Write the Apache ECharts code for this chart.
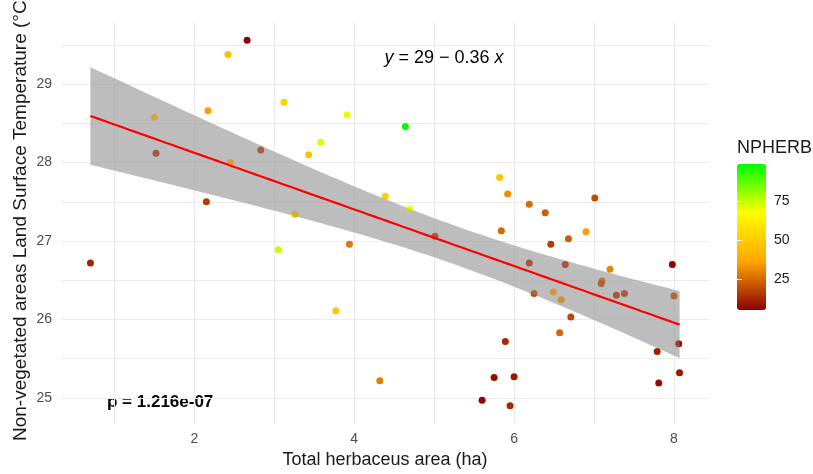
<!DOCTYPE html>
<html>
<head>
<meta charset="utf-8">
<script src="https://cdn.jsdelivr.net/npm/echarts@6/dist/echarts.min.js"></script>
<style>
  html, body { margin: 0; padding: 0; background: #ffffff; }
  #chart { width: 813px; height: 474px; }
</style>
</head>
<body>
<div id="chart"></div>
<script>
// Total herbaceous area per site (ha)
const herbArea = [
  2.66, 2.42, 2.17, 1.50, 1.52, 2.45, 2.83, 3.12, 3.91, 3.58,
  3.43, 2.15, 3.26, 4.64, 4.39, 4.69, 5.82, 5.92, 6.19, 6.39,
  7.01, 5.84, 6.90, 6.68, 6.46, 6.19, 6.64, 7.20, 7.10, 7.09,
  7.28, 7.38, 6.25, 6.49, 6.59, 7.98, 8.00, 6.71, 6.57, 5.89,
  8.06, 7.79, 4.32, 5.75, 6.00, 8.07, 7.81, 5.60, 5.95, 0.70,
  3.05, 3.94, 3.77, 5.01
];
// Land surface temperature of the non-vegetated areas (°C)
const lstTemp = [
  29.56, 29.38, 28.66, 28.58, 28.12, 28.00, 28.16, 28.77, 28.61, 28.26,
  28.10, 27.50, 27.34, 28.46, 27.57, 27.41, 27.81, 27.60, 27.47, 27.36,
  27.55, 27.13, 27.12, 27.03, 26.96, 26.72, 26.70, 26.64, 26.49, 26.46,
  26.31, 26.33, 26.33, 26.35, 26.25, 26.70, 26.30, 26.03, 25.83, 25.72,
  25.69, 25.59, 25.22, 25.26, 25.27, 25.32, 25.19, 24.97, 24.90, 26.72,
  26.89, 26.96, 26.11, 27.06
];
// NPHERB value per site (colour scale)
const npherb = [
  5.6, 45, 35, 40, 14, 36, 16, 51, 70, 72,
  48, 17, 42, 98.5, 51, 70, 47, 32, 26, 23,
  20, 25, 35, 23, 17, 14, 14, 31, 24, 18,
  14, 15, 19, 34, 32, 7, 19, 19, 25, 13,
  8, 12, 29, 8, 10, 10, 8, 7, 13, 12,
  74, 28, 48, 15
];

const xLabelValues = [2, 4, 6, 8];
const xGridValues = [1, 2, 3, 4, 5, 6, 7, 8];
const yLabelValues = [25, 26, 27, 28, 29];
const yGridValues = [25, 25.5, 26, 26.5, 27, 27.5, 28, 28.5, 29, 29.5];
const legendValues = [25, 50, 75];
const npherbRange = [5.6, 98.5];
const legendColors = ['#8B0000', '#FFA500', '#FFFF00', '#00FF00'];
const pValueText = 'p = 1.216e-07';
const xTitle = 'Total herbaceus area (ha)';
const yTitle = 'Non-vegetated areas Land Surface Temperature (°C)';

// Ordinary least squares fit with a 95% confidence band
const n = herbArea.length;
const mean = a => a.reduce((s, v) => s + v, 0) / a.length;
const xm = mean(herbArea), ym = mean(lstTemp);
let sxx = 0, sxy = 0;
for (let i = 0; i < n; i++) {
  sxx += (herbArea[i] - xm) ** 2;
  sxy += (herbArea[i] - xm) * (lstTemp[i] - ym);
}
const slope = sxy / sxx;
const intercept = ym - slope * xm;
let sse = 0;
for (let i = 0; i < n; i++) {
  const r = lstTemp[i] - (intercept + slope * herbArea[i]);
  sse += r * r;
}
const sigma = Math.sqrt(sse / (n - 2));
const tCrit = 2.0066; // Student t, 0.975 quantile, n - 2 = 52 df

const xMin = Math.min(...herbArea), xMax = Math.max(...herbArea);
const fitLine = [], bandRows = [];
const steps = 80;
for (let k = 0; k < steps; k++) {
  const x = xMin + (xMax - xMin) * k / (steps - 1);
  const yHat = intercept + slope * x;
  const half = tCrit * sigma * Math.sqrt(1 / n + (x - xm) ** 2 / sxx);
  fitLine.push([x, yHat]);
  bandRows.push([x, yHat - half, yHat + half]);
}

// Scale limits: data range widened by 5% on each side
const widen = (lo, hi) => { const d = (hi - lo) * 0.05; return [lo - d, hi + d]; };
const xExt = widen(xMin, xMax);
const yLoAll = Math.min(...lstTemp, ...bandRows.map(r => r[1]));
const yHiAll = Math.max(...lstTemp, ...bandRows.map(r => r[2]));
const yExt = widen(yLoAll, yHiAll);

const points = herbArea.map((x, i) => [x, lstTemp[i], npherb[i]]);

const fmt2 = v => Number(v.toPrecision(2)).toString();
const sign = slope < 0 ? '\u2212' : '+';
const equation = '{i|y} = ' + fmt2(intercept) + ' ' + sign + ' ' + fmt2(Math.abs(slope)) + ' {i|x}';

const FONT = '"Liberation Sans", Arial, sans-serif';
const gridColor = '#EBEBEB';
const bandFill = 'rgba(153,153,153,0.4)';

// Confidence ribbon drawn as one polygon through the axis scales
function ribbon(z) {
  return {
    type: 'custom', z: z, silent: true, xAxisIndex: 0, yAxisIndex: 0,
    data: bandRows,
    encode: { x: 0, y: [1, 2] },
    renderItem: function (params, api) {
      if (params.dataIndex !== 0) return null;
      const upper = bandRows.map(r => api.coord([r[0], r[2]]));
      const lower = bandRows.slice().reverse().map(r => api.coord([r[0], r[1]]));
      return {
        type: 'polygon',
        shape: { points: upper.concat(lower) },
        style: { fill: bandFill, stroke: null }
      };
    }
  };
}

const chart = echarts.init(document.getElementById('chart'), null, { renderer: 'canvas' });
chart.setOption({
  animation: false,
  backgroundColor: '#ffffff',
  grid: [
    { left: 61, right: 104, top: 22, bottom: 49 },
    { left: 737, top: 164, width: 29, height: 146 }
  ],
  xAxis: [
    {
      type: 'value', gridIndex: 0, min: xExt[0], max: xExt[1],
      axisLine: { show: false },
      axisTick: { show: false, customValues: xGridValues },
      axisLabel: { customValues: xLabelValues, color: '#4D4D4D', fontSize: 14, fontFamily: FONT, margin: 8 },
      splitLine: { show: true, lineStyle: { color: gridColor, width: 1.1 } },
      name: xTitle, nameLocation: 'middle', nameGap: 27,
      nameTextStyle: { color: '#1A1A1A', fontSize: 18, fontFamily: FONT }
    },
    { type: 'value', gridIndex: 1, show: false, min: 0, max: 1 }
  ],
  yAxis: [
    {
      type: 'value', gridIndex: 0, min: yExt[0], max: yExt[1],
      axisLine: { show: false },
      axisTick: { show: false, customValues: yGridValues },
      axisLabel: { customValues: yLabelValues, color: '#4D4D4D', fontSize: 14, fontFamily: FONT, margin: 9 },
      splitLine: { show: true, lineStyle: { color: gridColor, width: 1.1 } }
    },
    {
      type: 'value', gridIndex: 1, position: 'right', min: npherbRange[0], max: npherbRange[1], z: 10,
      axisLine: { show: false },
      axisTick: { show: true, inside: true, length: 5, customValues: legendValues, lineStyle: { color: '#ffffff', width: 1 } },
      axisLabel: { customValues: legendValues, color: '#1A1A1A', fontSize: 14, fontFamily: FONT, margin: 8 },
      splitLine: { show: false }
    },
    {
      type: 'value', gridIndex: 1, position: 'left', min: npherbRange[0], max: npherbRange[1], z: 10,
      axisLine: { show: false },
      axisTick: { show: true, inside: true, length: 5, customValues: legendValues, lineStyle: { color: '#ffffff', width: 1 } },
      axisLabel: { show: false },
      splitLine: { show: false }
    }
  ],
  visualMap: {
    type: 'continuous', min: npherbRange[0], max: npherbRange[1], dimension: 2, seriesIndex: 1,
    inRange: { color: legendColors },
    left: 737, top: 164, itemWidth: 29, itemHeight: 146, padding: 0,
    calculable: false, hoverLink: false, text: null, z: 4
  },
  graphic: [
    {
      type: 'text', x: 21, y: 441, rotation: Math.PI / 2, silent: true,
      style: { text: yTitle, fill: '#1A1A1A', font: '19px ' + FONT, align: 'left', verticalAlign: 'middle' }
    },
    {
      type: 'text', x: 737, y: 148, silent: true,
      style: { text: 'NPHERB', fill: '#1A1A1A', font: '18px ' + FONT, align: 'left', verticalAlign: 'middle' }
    },
    {
      type: 'text', x: 444, y: 58, silent: true,
      style: {
        text: equation, fill: '#000000', font: '18px ' + FONT, align: 'center', verticalAlign: 'middle',
        rich: { i: { fontStyle: 'italic', fontSize: 18, fontFamily: FONT, fill: '#000000' } }
      }
    },
    {
      type: 'text', x: 107, y: 402, silent: true,
      style: { text: pValueText, fill: '#000000', font: 'bold 17px ' + FONT, align: 'left', verticalAlign: 'middle' }
    }
  ],
  series: [
    ribbon(1),
    {
      type: 'scatter', data: points, symbolSize: 7, z: 2, xAxisIndex: 0, yAxisIndex: 0,
      itemStyle: { opacity: 1 }
    },
    ribbon(3),
    {
      type: 'line', data: fitLine, symbol: 'none', silent: true, z: 4,
      xAxisIndex: 0, yAxisIndex: 0,
      lineStyle: { color: '#FF0000', width: 2.2 }
    }
  ]
});
</script>
</body>
</html>
